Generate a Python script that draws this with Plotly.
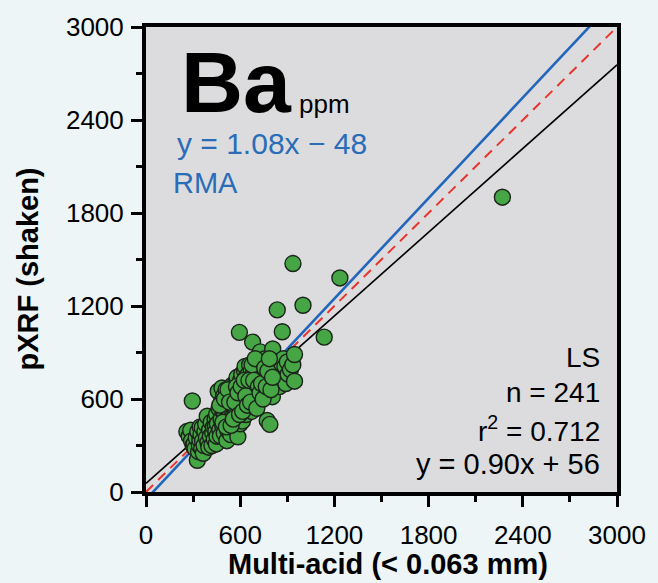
import plotly.graph_objects as go

# ---- data ----
multi_acid = [
    260, 275, 285, 290, 295, 300, 306, 312, 320, 327, 330, 335, 340, 343, 345, 350, 355, 358, 360, 365,
    370, 375, 380, 385, 390, 395, 400, 405, 410, 415, 420, 425, 430, 435, 440, 442, 445, 448, 450, 452,
    455, 460, 465, 470, 474, 478, 480, 484, 488, 490, 495, 498, 501, 505, 508, 510, 515, 515, 518, 520,
    525, 528, 530, 535, 538, 540, 545, 548, 550, 552,
    555, 558, 560, 562, 565, 568, 570, 572, 575, 578, 580, 583, 585, 588, 590, 592, 595, 597, 600, 602,
    605, 608, 610, 612, 614, 616, 618, 620, 622, 625, 628, 630, 631, 634, 636, 638, 640, 642, 645, 646,
    650, 652, 655, 658, 660, 662, 665, 668, 670, 672, 675, 677, 679, 679, 682, 685, 688, 690, 692, 694,
    696, 698, 700, 702, 705, 708, 710, 712, 715, 718, 720, 722, 725, 728, 730, 733, 736, 740, 742, 745,
    748, 750, 752, 755, 758, 760, 762, 765, 768, 770, 772, 775, 778, 780, 782, 785, 789, 790, 792, 795,
    798, 800, 802, 805, 807, 810, 812, 815, 818, 820, 825, 830, 835, 838, 840, 845, 848, 850,
    855, 860, 868, 870, 875, 880, 885, 890, 900, 905, 920, 935, 946, 946, 936, 1000, 836, 1135, 1235, 2270,
    470, 490, 500, 512, 522, 532, 542, 556, 566, 576, 586, 596, 606, 616, 626, 636, 646, 656, 666, 676,
    686, 696, 706, 716, 726, 736, 746, 756, 766, 776, 786, 796, 806,
]
pxrf_shaken = [
    390, 360, 398, 330, 587, 300, 310, 280, 350, 205, 390, 260, 300, 335, 420, 370, 280, 415, 330, 250,
    300, 390, 440, 350, 489, 320, 289, 400, 360, 450, 300, 380, 420, 340, 470, 425, 390, 310, 500, 360,
    440, 650, 540, 400, 362, 470, 580, 671, 430, 520, 620, 380, 510, 560, 450, 660, 587, 331, 480, 400,
    540, 600, 440, 500, 640, 370, 560, 470, 690, 520,
    600, 420, 500, 650, 540, 415, 700, 460, 620, 520, 740, 572, 356, 480, 680, 560, 1030, 640, 440, 720,
    520, 600, 760, 480, 457, 660, 560, 700, 620, 540, 780, 680, 810, 600, 500, 740, 650, 560, 700, 713,
    620, 760, 540, 680, 820, 600, 720, 660, 780, 520, 700, 640, 967, 552, 760, 600, 680, 800, 720, 684,
    560, 640, 760, 840, 700, 620, 780, 660, 740, 820, 700, 600, 760, 904, 680, 800, 740, 640, 776, 700,
    820, 760, 660, 720, 860, 780, 700, 620, 740, 800, 461, 680, 760, 720, 840, 640, 436, 780, 700, 740,
    820, 760, 680, 615, 923, 800, 720, 760, 700, 840, 780, 740, 747, 800, 700, 760, 820, 680,
    740, 790, 1034, 720, 860, 770, 810, 700, 839, 760, 790, 820, 887, 715, 1474, 1205, 1175, 999, 1381, 1902,
    560, 450, 600, 420, 660, 580, 430, 470, 580, 680, 640, 500, 680, 520, 720, 620, 560, 720, 580, 820,
    720, 860, 540, 680, 640, 700, 600, 800, 680, 780, 860, 660, 740,
]

rma_slope, rma_intercept = 1.08, -48
ls_slope, ls_intercept = 0.90, 56
axis_range = [0, 3000]
tick_vals = [0, 600, 1200, 1800, 2400, 3000]
tick_text = ["0", "600", "1200", "1800", "2400", "3000"]

FONT = "Liberation Sans, Arial, sans-serif"
BLUE = "#2a6cb8"

fig = go.Figure()

# 1:1 line
fig.add_trace(go.Scatter(x=axis_range, y=axis_range, mode="lines",
                         line=dict(color="#e8342c", width=2, dash="10px,7px"),
                         hoverinfo="skip", showlegend=False))
# LS line
fig.add_trace(go.Scatter(x=axis_range, y=[ls_slope * v + ls_intercept for v in axis_range],
                         mode="lines", line=dict(color="black", width=1.6),
                         hoverinfo="skip", showlegend=False))
# RMA line
fig.add_trace(go.Scatter(x=axis_range, y=[rma_slope * v + rma_intercept for v in axis_range],
                         mode="lines", line=dict(color="#2266bb", width=2.6),
                         hoverinfo="skip", showlegend=False))
# points
fig.add_trace(go.Scatter(x=multi_acid, y=pxrf_shaken, mode="markers",
                         marker=dict(size=16, color="#46a544",
                                     line=dict(color="#1b241b", width=1.4)),
                         showlegend=False))

axis_common = dict(
    range=axis_range, showgrid=False, zeroline=False,
    showline=True, linecolor="black", linewidth=4, mirror=True,
    ticks="outside", ticklen=11, tickwidth=3, tickcolor="black",
    tickvals=tick_vals, ticktext=tick_text,
    minor=dict(dtick=300, ticks="outside", ticklen=6, tickwidth=3, tickcolor="black"),
    tickfont=dict(family=FONT, size=26, color="black"),
)

fig.update_layout(
    width=658, height=583,
    margin=dict(l=146, r=36, t=16, b=91),
    paper_bgcolor="#edf5f7",
    plot_bgcolor="#dcdcde",
    xaxis=dict(**axis_common, ticklabelstandoff=6),
    yaxis=dict(**axis_common, ticklabelstandoff=2),
    font=dict(family=FONT, color="black"),
)

ann = []
ann.append(dict(text="<b>Ba</b>", font=dict(size=86, color="black", family=FONT)))
ann.append(dict(text="ppm", font=dict(size=26, color="black", family=FONT)))
ann.append(dict(text="y = 1.08x \u2212 48", font=dict(size=30, color=BLUE, family=FONT)))
ann.append(dict(text="RMA", font=dict(size=29, color=BLUE, family=FONT)))
ann.append(dict(text="LS", font=dict(size=28, color="black", family=FONT)))
ann.append(dict(text="n = 241", font=dict(size=28, color="black", family=FONT)))
ann.append(dict(text="r<sup>2</sup> = 0.712", font=dict(size=28, color="black", family=FONT)))
ann.append(dict(text="y = 0.90x + 56", font=dict(size=29, color="black", family=FONT)))
ann.append(dict(text="<b>Multi-acid (< 0.063 mm)</b>", font=dict(size=29, color="black", family=FONT)))
ann.append(dict(text="<b>pXRF (shaken)</b>", textangle=-90, font=dict(size=29, color="black", family=FONT)))

# pixel placement helpers (figure pixel coords -> paper)
L, R, T, B = 146, 622, 16, 492
def px(xp):
    return (xp - L) / (R - L)
def py(yp):
    return (B - yp) / (B - T)

places = [
    (179, 72, "left", "middle"),    # Ba
    (299, 95, "left", "middle"),    # ppm
    (175, 135, "left", "middle"),   # rma eq
    (171, 176, "left", "middle"),   # RMA
    (607, 354, "right", "middle"),  # LS
    (607, 390, "right", "middle"),  # n
    (607, 427, "right", "middle"),  # r2
    (607, 463, "right", "middle"),  # ls eq
    (391, 566, "center", "middle"), # x title
    (27, 264, "center", "middle"),  # y title
]
for a, (xp, yp, xa, ya) in zip(ann, places):
    a.update(x=px(xp), y=py(yp), xref="paper", yref="paper", xanchor=xa, yanchor=ya,
             showarrow=False)
fig.update_layout(annotations=ann)

fig.write_html("out.html")
